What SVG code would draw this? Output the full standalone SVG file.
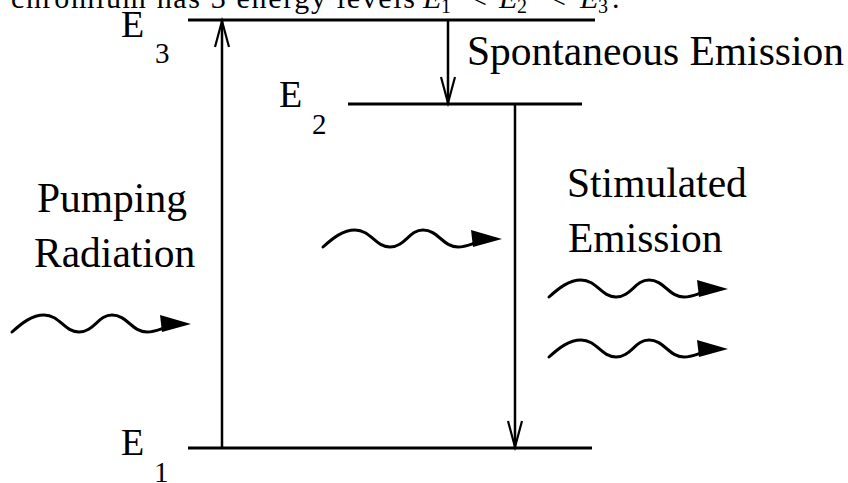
<svg xmlns="http://www.w3.org/2000/svg" width="848" height="483" viewBox="0 0 848 483" font-family="'Liberation Serif', 'Times New Roman', Times, serif">
<style>
text{font-family:'Liberation Serif','Times New Roman',Times,serif;fill:#000}
.lbl{font-size:41.5px}
.E{font-size:38px}
.sub{font-size:29px}
.cap{font-size:30px}
.capi{font-size:30px;font-style:italic}
.caps{font-size:20px}
.level{stroke:#000;stroke-width:3;fill:none}
.arr{stroke:#000;stroke-width:2.5;fill:none}
.wave{stroke:#000;stroke-width:3;fill:none;stroke-linecap:round}
</style>
<defs>
<marker id="open" viewBox="0 0 28 16" refX="26" refY="7" markerWidth="28" markerHeight="16" markerUnits="userSpaceOnUse" orient="auto" overflow="visible">
<path d="M0,0 L26,7 L0,14" fill="none" stroke="#000" stroke-width="2.2"/>
</marker>
<g id="photon">
<path class="wave" d="M0,0 C10,-9 20,-17 32,-17 C48,-17 52,0 67,0 C82,0 86,-17 100,-17 C115,-17 120,0 135,0 C142,0 146,-2 152,-4"/>
<polygon points="148,-17 179,-8 150,0" fill="#000"/>
</g>
</defs>
<rect width="848" height="483" fill="#fff"/>

<g id="caption">
<text class="cap" x="11" y="8" textLength="404" lengthAdjust="spacing">chromium has 3 energy levels</text>
<text class="capi" x="423" y="8">E</text>
<text class="caps" x="441" y="13">1</text>
<text class="cap" x="470" y="8">&lt;</text>
<text class="capi" x="499" y="8">E</text>
<text class="caps" x="517" y="13">2</text>
<text class="cap" x="549" y="8">&lt;</text>
<text class="capi" x="580" y="8">E</text>
<text class="caps" x="598" y="13">3</text>
<text class="cap" x="612" y="8">.</text>
</g>

<g id="level-E3">
<line class="level" x1="188" y1="20" x2="595" y2="20"/>
<text class="E" x="121" y="37">E</text>
<text class="sub" x="155" y="63">3</text>
</g>
<g id="level-E2">
<line class="level" x1="348" y1="104" x2="582" y2="104"/>
<text class="E" x="279" y="107">E</text>
<text class="sub" x="312" y="134">2</text>
</g>
<g id="level-E1">
<line class="level" x1="188" y1="448" x2="592" y2="448"/>
<text class="E" x="121" y="455">E</text>
<text class="sub" x="154" y="482">1</text>
</g>

<g id="connectors">
<line class="arr" x1="222" y1="448" x2="222" y2="21" marker-end="url(#open)"/>
<line class="arr" x1="448" y1="20" x2="448" y2="103" marker-end="url(#open)"/>
<line class="arr" x1="515" y1="104" x2="515" y2="447" marker-end="url(#open)"/>
</g>

<g id="label-spontaneous">
<text class="lbl" x="467" y="65">Spontaneous Emission</text>
</g>
<g id="label-stimulated">
<text class="lbl" x="567" y="197">Stimulated</text>
<text class="lbl" x="568" y="252">Emission</text>
</g>
<g id="label-pumping">
<text class="lbl" x="37" y="212">Pumping</text>
<text class="lbl" x="34" y="267">Radiation</text>
</g>

<g id="photon-pump"><use href="#photon" transform="translate(12,332)"/></g>
<g id="photon-mid"><use href="#photon" transform="translate(323,247)"/></g>
<g id="photon-out1"><use href="#photon" transform="translate(549,297)"/></g>
<g id="photon-out2"><use href="#photon" transform="translate(549,357)"/></g>
</svg>
